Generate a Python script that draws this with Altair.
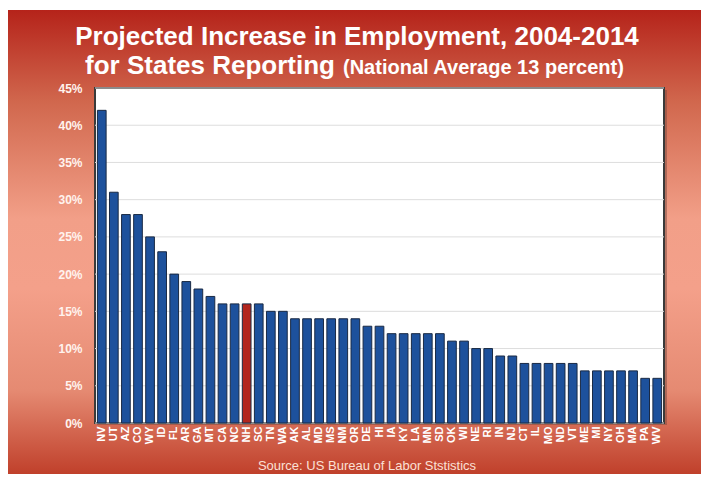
import altair as alt
import pandas as pd

states = ["NV", "UT", "AZ", "CO", "WY", "ID", "FL", "AR", "GA", "MT", "CA", "NC", "NH", "SC",
          "TN", "WA", "AK", "AL", "MD", "MS", "NM", "OR", "DE", "HI", "IA", "KY", "LA", "MN",
          "SD", "OK", "WI", "NE", "RI", "IN", "NJ", "CT", "IL", "MO", "ND", "VT", "ME", "MI",
          "NY", "OH", "MA", "PA", "WV"]
values = [42, 31, 28, 28, 25, 23, 20, 19, 18, 17, 16, 16, 16, 16,
          15, 15, 14, 14, 14, 14, 14, 14, 13, 13, 12, 12, 12, 12,
          12, 11, 11, 10, 10, 9, 9, 8, 8, 8, 8, 8, 7, 7,
          7, 7, 7, 6, 6]
highlight = "NH"
y_ticks = [0, 5, 10, 15, 20, 25, 30, 35, 40, 45]

title1 = "Projected Increase in Employment, 2004-2014"
title2a = "for States Reporting"
title2b = "(National Average 13 percent)"
source = "Source: US Bureau of Labor Ststistics"

W, H = 569, 335
PL, PT, PR, PB = 87, 80, 37, 51

df = pd.DataFrame({"state": states, "pct": [v / 100 for v in values]})
grid_df = pd.DataFrame({"pct": [v / 100 for v in y_ticks]})
one = pd.DataFrame({"a": [0]})

FONT = "Liberation Sans"

bg = alt.Chart(one).mark_rect(
    color=alt.Gradient(
        gradient="linear",
        stops=[
            alt.GradientStop(color="#b5231a", offset=0),
            alt.GradientStop(color="#d1684e", offset=0.2),
            alt.GradientStop(color="#f29f88", offset=0.45),
            alt.GradientStop(color="#f4a08a", offset=0.6),
            alt.GradientStop(color="#e58a72", offset=0.82),
            alt.GradientStop(color="#c0402b", offset=1),
        ],
        x1=0, x2=0, y1=0, y2=1,
    )
).encode(
    x=alt.value(-PL - 4), x2=alt.value(W + PR + 10),
    y=alt.value(-PT + 2), y2=alt.value(H + PB)
)

shadow = alt.Chart(one).mark_rect(color="#7a4a40", opacity=0.5).encode(
    x=alt.value(2), x2=alt.value(W + 3), y=alt.value(2), y2=alt.value(H + 2)
)

panel = alt.Chart(one).mark_rect(fill="white", stroke="#3a3a3a", strokeWidth=2).encode(
    x=alt.value(0), x2=alt.value(W), y=alt.value(0), y2=alt.value(H)
)

yscale = alt.Scale(domain=[0, 0.45], nice=False)
yaxis = alt.Axis(values=[v / 100 for v in y_ticks], format=".0%",
                 labelColor="#fff3ee", labelFont=FONT, labelFontSize=12,
                 labelFontWeight="bold", labelPadding=13, ticks=False,
                 domain=False, grid=False, zindex=1)

grid = alt.Chart(grid_df).mark_rule(color="#dddddd", strokeWidth=1).encode(
    y=alt.Y("pct:Q", scale=yscale, title=None, axis=yaxis)
)

bars = alt.Chart(df).mark_bar(stroke="#1a2a44", strokeWidth=1).encode(
    x=alt.X("state:N", sort=None, title=None,
            scale=alt.Scale(paddingInner=0.28, paddingOuter=0.2),
            axis=alt.Axis(labelAngle=-90, labelColor="white", labelFont=FONT,
                          labelFontSize=11, labelFontWeight="bold", labelPadding=3,
                          ticks=False, domain=False, labelBaseline="middle", zindex=1)),
    y=alt.Y("pct:Q", scale=yscale, title=None, axis=yaxis),
    color=alt.condition(alt.datum.state == highlight, alt.value("#b3261e"), alt.value("#1d519c")),
)

def txt(text, x, y, size, align="center", weight="bold", color="white"):
    return alt.Chart(one).mark_text(
        text=text, font=FONT, fontSize=size, fontWeight=weight, color=color,
        align=align, baseline="alphabetic"
    ).encode(x=alt.value(x), y=alt.value(y))

t1 = txt(title1, 262, -43, 26)
t2a = txt(title2a, 240, -14, 26, align="right")
t2b = txt(title2b, 248, -14, 20, align="left")
src = txt(source, 272, 382, 13, weight="normal", color="#fbe0d6")

chart = alt.layer(bg, shadow, panel, grid, bars, t1, t2a, t2b, src).properties(
    width=W, height=H,
    autosize=alt.AutoSizeParams(type="none"),
    padding={"left": PL, "top": PT, "right": PR, "bottom": PB},
).configure_view(stroke="transparent").configure(background="white")

chart.save("out.html", embed_options={"renderer": "svg", "actions": False})
